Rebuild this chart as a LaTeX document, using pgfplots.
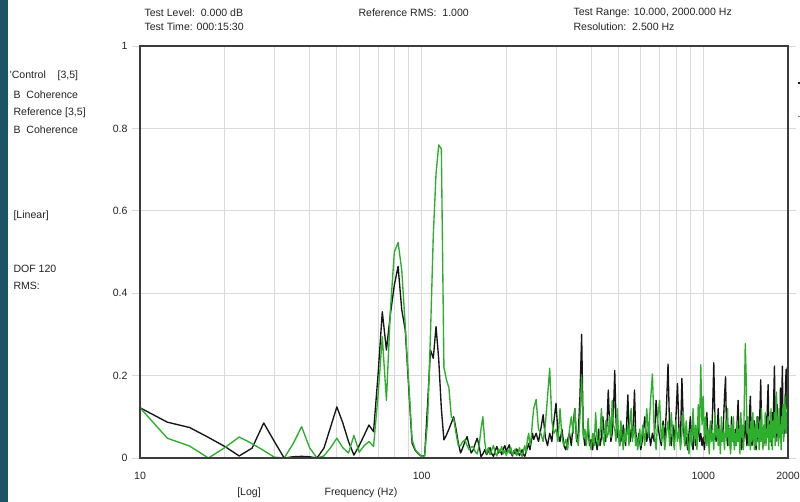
\documentclass[border=0pt]{standalone}
\usepackage{fontspec}
\setmainfont{Liberation Sans}
\usepackage{pgfplots}
\pgfplotsset{compat=1.18}
\usepackage{pgfplotstable}

% Coherence spectra: f [Hz], control (c), reference (r)
\pgfplotstableread{
f c r
10 0.122 0.122
12.5 0.087 0.048
15 0.074 0.029
17.5 0.050 0.000
20 0.028 0.025
22.5 0.005 0.051
25 0.024 0.035
27.5 0.085 0.018
30 0.040 0.002
32.5 0.000 0.000
35 0.003 0.035
37.5 0.004 0.076
40 0.003 0.025
42.5 0.000 0.000
45 0.024 0.005
47.5 0.075 0.025
50 0.124 0.048
52.5 0.085 0.025
55 0.040 0.012
57.5 0.007 0.055
60 0.030 0.014
62.5 0.055 0.030
65 0.080 0.040
67.5 0.064 0.028
70 0.200 0.150
72.5 0.355 0.294
75 0.262 0.140
77.5 0.350 0.360
80 0.420 0.500
82.5 0.465 0.523
85 0.360 0.456
87.5 0.310 0.320
90 0.170 0.180
92.5 0.036 0.044
95 0.018 0.020
97.5 0.010 0.011
100 0.004 0.004
102.5 0.006 0.005
105 0.130 0.090
107.5 0.262 0.300
110 0.242 0.540
112.5 0.319 0.690
115 0.240 0.760
117.5 0.120 0.750
120 0.044 0.220
122.5 0.056 0.190
125 0.070 0.170
127.5 0.085 0.100
130 0.100 0.095
132.5 0.070 0.060
135 0.036 0.030
137.5 0.012 0.030
140 0.025 0.040
142.5 0.040 0.044
145 0.052 0.030
147.5 0.030 0.020
150 0.012 0.027
152.5 0.020 0.027
155 0.035 0.015
157.5 0.048 0.010
160 0.030 0.030
162.5 0.003 0.070
165 0.010 0.100
167.5 0.020 0.040
170 0.008 0.010
172.5 0.015 0.025
175 0.025 0.008
177.5 0.010 0.020
180 0.004 0.030
182.5 0.018 0.012
185 0.028 0.005
187.5 0.012 0.022
190 0.020 0.015
192.5 0.008 0.028
195 0.022 0.010
197.5 0.030 0.018
200 0.015 0.006
202.5 0.025 0.020
205 0.032 0.012
207.5 0.012 0.025
210 0.005 0.008
212.5 0.018 0.015
215 0.010 0.022
217.5 0.022 0.006
220 0.015 0.012
222.5 0.006 0.025
225 0.012 0.010
227.5 0.020 0.004
230 0.008 0.018
232.5 0.004 0.030
235 0.015 0.012
237.5 0.025 0.045
240 0.035 0.060
242.5 0.020 0.030
245 0.040 0.050
247.5 0.060 0.090
250 0.045 0.120
255 0.060 0.142
260 0.040 0.070
265 0.070 0.060
270 0.105 0.040
275 0.050 0.080
280 0.030 0.150
285 0.060 0.218
290 0.040 0.090
295 0.090 0.060
300 0.133 0.070
305 0.060 0.040
310 0.040 0.120
315 0.070 0.050
320 0.030 0.030
325 0.020 0.045
330 0.045 0.020
335 0.060 0.070
340 0.030 0.100
345 0.080 0.060
350 0.120 0.120
355 0.040 0.050
360 0.060 0.030
365 0.150 0.100
370 0.300 0.197
375 0.060 0.050
380 0.030 0.070
385 0.050 0.030
390 0.070 0.096
395 0.030 0.040
400 0.045 0.020
405 0.020 0.060
410 0.060 0.030
415 0.040 0.110
420 0.020 0.040
425 0.070 0.030
430 0.030 0.060
435 0.050 0.120
440 0.100 0.050
445 0.060 0.030
450 0.040 0.090
455 0.080 0.050
460 0.165 0.060
465 0.080 0.100
470 0.040 0.050
475 0.060 0.140
480 0.110 0.080
485 0.212 0.070
490 0.090 0.040
495 0.050 0.120
500 0.070 0.060
505 0.030 0.030
510 0.060 0.090
515 0.040 0.050
520 0.080 0.020
525 0.050 0.070
530 0.030 0.040
535 0.090 0.060
540 0.153 0.080
545 0.060 0.030
550 0.040 0.100
555 0.070 0.120
560 0.050 0.040
565 0.090 0.060
570 0.165 0.080
575 0.070 0.030
580 0.040 0.050
585 0.030 0.020
590 0.060 0.040
595 0.040 0.070
600 0.020 0.030
610 0.050 0.080
620 0.100 0.030
630 0.040 0.120
640 0.070 0.050
650 0.030 0.140
660 0.060 0.204
670 0.040 0.060
680 0.140 0.020
690 0.080 0.100
700 0.050 0.140
710 0.030 0.040
720 0.090 0.080
730 0.040 0.020
740 0.120 0.060
750 0.228 0.090
760 0.060 0.030
770 0.030 0.110
780 0.080 0.050
790 0.040 0.020
800 0.100 0.090
810 0.181 0.040
820 0.070 0.070
830 0.040 0.020
840 0.193 0.060
850 0.080 0.110
860 0.030 0.030
870 0.050 0.090
880 0.020 0.040
890 0.060 0.010
900 0.100 0.070
910 0.040 0.030
920 0.020 0.120
930 0.070 0.040
940 0.030 0.080
950 0.050 0.020
960 0.080 0.130
970 0.040 0.060
980 0.060 0.226
990 0.030 0.080
1000 0.050 0.150
1010 0.020 0.040
1020 0.070 0.100
1030 0.110 0.030
1040 0.040 0.070
1050 0.030 0.010
1060 0.080 0.090
1070 0.050 0.040
1080 0.120 0.060
1090 0.231 0.020
1100 0.090 0.110
1110 0.040 0.050
1120 0.060 0.080
1130 0.120 0.030
1140 0.050 0.070
1150 0.030 0.010
1160 0.070 0.100
1170 0.040 0.040
1180 0.090 0.060
1190 0.150 0.020
1200 0.197 0.090
1210 0.060 0.050
1220 0.030 0.120
1230 0.080 0.030
1240 0.050 0.070
1250 0.020 0.010
1260 0.100 0.080
1270 0.040 0.040
1280 0.060 0.100
1290 0.030 0.020
1300 0.070 0.060
1310 0.050 0.030
1320 0.090 0.090
1330 0.140 0.040
1340 0.060 0.070
1350 0.030 0.010
1360 0.050 0.110
1370 0.020 0.050
1380 0.070 0.080
1390 0.040 0.020
1400 0.060 0.150
1410 0.090 0.278
1420 0.050 0.200
1430 0.030 0.060
1440 0.080 0.100
1450 0.040 0.030
1460 0.110 0.070
1470 0.150 0.020
1480 0.060 0.090
1490 0.030 0.040
1500 0.070 0.110
1510 0.040 0.050
1520 0.090 0.020
1530 0.050 0.080
1540 0.020 0.030
1550 0.060 0.100
1560 0.100 0.050
1570 0.040 0.070
1580 0.070 0.020
1590 0.120 0.090
1600 0.190 0.040
1610 0.080 0.120
1620 0.040 0.060
1630 0.060 0.020
1640 0.030 0.080
1650 0.080 0.040
1660 0.050 0.110
1670 0.100 0.030
1680 0.060 0.070
1690 0.130 0.050
1700 0.178 0.100
1710 0.070 0.020
1720 0.040 0.080
1730 0.090 0.040
1740 0.050 0.120
1750 0.030 0.060
1760 0.110 0.020
1770 0.060 0.090
1780 0.150 0.050
1790 0.223 0.110
1800 0.090 0.030
1810 0.040 0.080
1820 0.070 0.160
1830 0.130 0.060
1840 0.060 0.100
1850 0.040 0.030
1860 0.100 0.120
1870 0.050 0.050
1880 0.170 0.080
1890 0.080 0.020
1900 0.140 0.100
1910 0.223 0.060
1920 0.090 0.130
1930 0.050 0.040
1940 0.100 0.090
1950 0.060 0.150
1960 0.180 0.070
1970 0.215 0.110
1980 0.120 0.060
1990 0.220 0.160
2000 0.215 0.178
}\coherence

\definecolor{ctrlc}{RGB}{22,22,22}
\definecolor{refc}{RGB}{45,175,45}
\definecolor{sidebar}{RGB}{27,85,99}
\definecolor{gridc}{RGB}{218,218,218}
\definecolor{framec}{RGB}{60,60,60}
\definecolor{txt}{RGB}{35,35,35}

\begin{document}
\begin{tikzpicture}[font=\fontsize{10.6}{12.5}\selectfont, text=txt]
\path[use as bounding box] (0bp,0bp) rectangle (800bp,502bp);
\fill[white] (0bp,0bp) rectangle (800bp,502bp);
\fill[sidebar] (0bp,0bp) rectangle (8bp,502bp);

% header
\node[anchor=west] at (141bp,489bp) {Test Level:\ \ 0.000 dB};
\node[anchor=west] at (141bp,475bp) {Test Time: 000:15:30};
\node[anchor=west] at (355bp,489bp) {Reference RMS:\ \ 1.000};
\node[anchor=west] at (570bp,489bp) {Test Range: 10.000, 2000.000 Hz};
\node[anchor=west] at (570bp,475bp) {Resolution:\ \ 2.500 Hz};

% channel description
\node[anchor=west] at (6bp,426bp) {'Control\ \ \ \ [3,5]};
\node[anchor=west] at (10bp,407bp) {B\ \ Coherence};
\node[anchor=west] at (10bp,389bp) {Reference [3,5]};
\node[anchor=west] at (10bp,372bp) {B\ \ Coherence};
\node[anchor=west] at (10bp,286bp) {[Linear]};
\node[anchor=west] at (10bp,233bp) {DOF 120};
\node[anchor=west] at (10bp,216bp) {RMS:};

% axis titles
\node at (249bp,9bp) {[Log]};
\node at (361bp,9bp) {Frequency (Hz)};

\begin{axis}[
  at={(140bp,44bp)}, anchor=south west,
  width=648bp, height=412bp, scale only axis,
  xmode=log, xmin=10, xmax=2000, ymin=0, ymax=1,
  xtick={10,100,1000,2000},
  xticklabels={10,100,1000,2000},
  minor xtick={20,30,40,50,60,70,80,90,200,300,400,500,600,700,800,900},
  ytick={0,0.2,0.4,0.6,0.8,1},
  yticklabels={0,0.2,0.4,0.6,0.8,1},
  /pgf/number format/assume math mode=true,
  tick label style={font=\fontsize{10.6}{12}\selectfont, text=txt},
  xmajorgrids, xminorgrids, ymajorgrids,
  major grid style={draw=gridc, line width=0.9bp},
  minor grid style={draw=gridc, line width=0.9bp},
  tick align=outside,
  xtick style={draw=none},
  minor tick length=0pt,
  ytick style={draw=gridc, line width=0.9bp},
  major tick length=8bp,
  xticklabel style={yshift=-3bp},
  yticklabel style={xshift=-1bp},
  axis line style={draw=framec, line width=1.7bp},
  legend style={at={(rel axis cs:1.0139,0.917)}, anchor=north west,
    draw=none, fill=none, inner sep=0pt, outer sep=0pt,
    row sep=28bp},
  legend image code/.code={\draw[#1] (0bp,0bp) -- (10bp,0bp);},
  clip mode=individual,
]
\addplot[ctrlc, line width=1.35bp, line join=round] table[x=f, y=c] {\coherence};
\addlegendentry{}
\addplot[refc, line width=1.35bp, line join=round] table[x=f, y=r] {\coherence};
\addlegendentry{}
\draw[framec, line width=1.7bp] (rel axis cs:0,0) rectangle (rel axis cs:1,1);
\end{axis}
\end{tikzpicture}
\end{document}
